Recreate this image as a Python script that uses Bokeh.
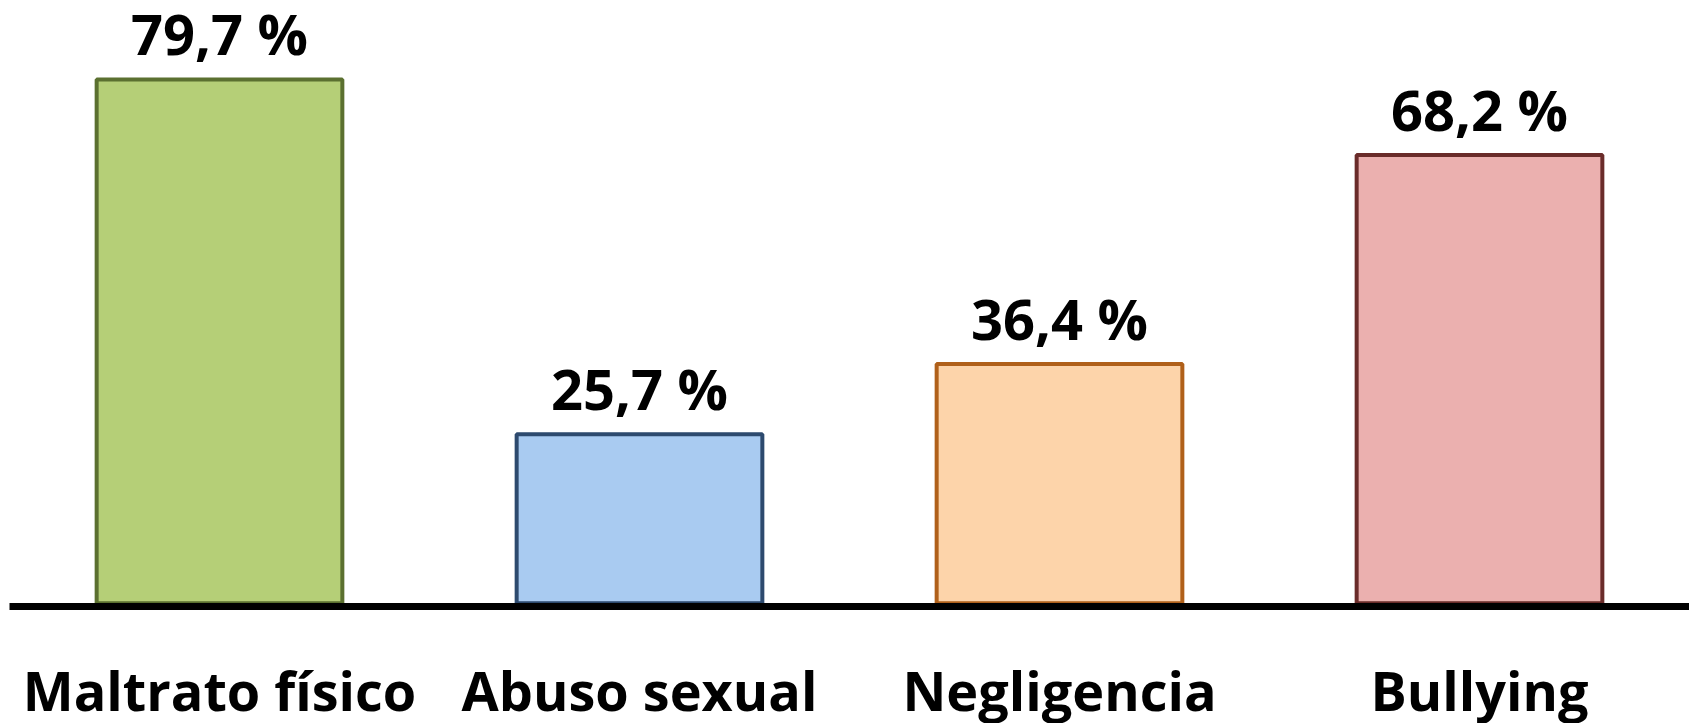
from bokeh.plotting import figure
from bokeh.models import ColumnDataSource, FactorRange, Range1d
from bokeh.core.properties import value
from bokeh.embed import file_html
from bokeh.resources import INLINE

categories = ["Maltrato físico", "Abuso sexual", "Negligencia", "Bullying"]
percentages = [79.7, 25.7, 36.4, 68.2]
labels = ["79,7 %", "25,7 %", "36,4 %", "68,2 %"]
fill_colors = ["#b5cf77", "#a9cbf1", "#fdd4aa", "#ebb0af"]
line_colors = ["#5b7030", "#2d4a6e", "#b0601a", "#6a2c2a"]

source = ColumnDataSource(dict(cat=categories, val=percentages, lab=labels,
                               fill=fill_colors, line=line_colors))

p = figure(x_range=FactorRange(*categories, range_padding=0),
           y_range=Range1d(-0.5, 90.5),
           frame_width=1680, frame_height=598,
           output_backend="svg", toolbar_location=None,
           min_border_left=9, min_border_right=0, min_border_top=8, min_border_bottom=0)

p.vbar(x="cat", top="val", bottom=0, width=0.585, source=source,
       fill_color="fill", line_color="line", line_width=4)

p.text(x="cat", y="val", text="lab", source=source,
       text_align="center", text_baseline="alphabetic", y_offset=-46,
       text_font=value("Open Sans"), text_font_style="bold",
       text_font_size="56px", text_color="black")

p.yaxis.visible = False
p.xgrid.visible = False
p.ygrid.visible = False
p.outline_line_color = None
p.background_fill_color = "white"
p.border_fill_color = "white"

ax = p.xaxis[0]
ax.axis_line_width = 7
ax.axis_line_color = "black"
ax.major_tick_line_color = None
ax.minor_tick_line_color = None
ax.major_tick_out = 0
ax.major_tick_in = 0
ax.major_label_standoff = 46
ax.major_label_text_font = "Open Sans"
ax.major_label_text_font_style = "bold"
ax.major_label_text_font_size = "54px"
ax.major_label_text_color = "black"

open("out.html", "w").write(file_html(p, INLINE))
